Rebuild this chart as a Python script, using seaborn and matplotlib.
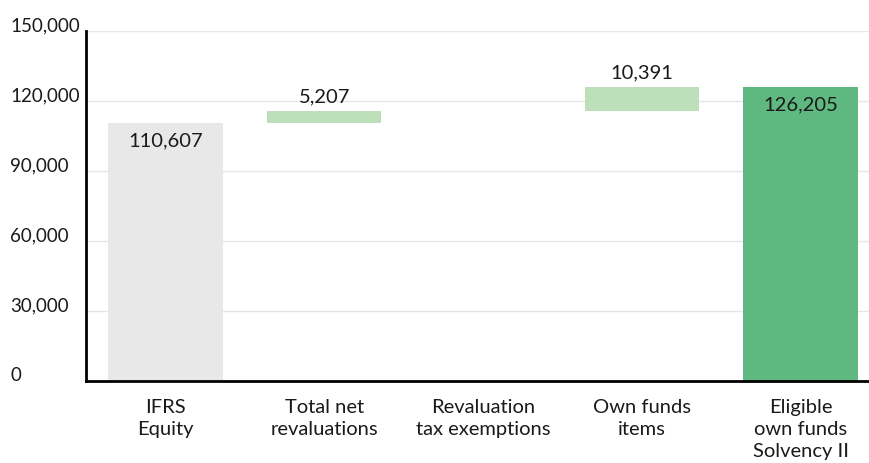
import matplotlib
matplotlib.use("Agg")
import matplotlib.pyplot as plt
import seaborn as sns
import pandas as pd

categories = ["IFRS\nEquity", "Total net\nrevaluations", "Revaluation\ntax exemptions",
              "Own funds\nitems", "Eligible\nown funds\nSolvency II"]
changes = [110607, 5207, 0, 10391, 126205]
kinds = ["start", "delta", "delta", "delta", "total"]
colors_by_kind = {"start": "#E8E8E8", "delta": "#BDDFB9", "total": "#5FB87F"}
yticks = [0, 30000, 60000, 90000, 120000, 150000]

# waterfall bases
bases = []
running = 0
for v, k in zip(changes, kinds):
    if k == "delta":
        bases.append(running)
        running += v
    else:
        bases.append(0)
        running = v

df = pd.DataFrame({"cat": categories, "val": changes})

sns.set_theme(style="white")
plt.rcParams["font.family"] = ["Lato", "DejaVu Sans"]

fig = plt.figure(figsize=(8.7, 4.63), dpi=100)
ax = fig.add_axes([86/870, 1-381/463, (880-86)/870, 350/463])

sns.barplot(data=df, x="cat", y="val", bottom=bases, width=0.72, color="#E8E8E8",
            saturation=1, ax=ax, zorder=2)
for p, k in zip(ax.patches, kinds):
    p.set_facecolor(colors_by_kind[k])
    p.set_edgecolor("none")

ax.set_ylim(0, 150000)
ax.set_yticks(yticks)
ax.set_yticklabels([f"{t:,}" for t in yticks])
ax.grid(axis="y", color="#E6E6E6", linewidth=1, zorder=0)
ax.set_axisbelow(True)
ax.set_xlabel("")
ax.set_ylabel("")

for s in ["top", "right"]:
    ax.spines[s].set_visible(False)
for s in ["left", "bottom"]:
    ax.spines[s].set_color("black")
    ax.spines[s].set_linewidth(2)

ax.tick_params(axis="y", length=0, pad=54.5, labelsize=13.5, labelcolor="#1a1a1a")
for lbl in ax.get_yticklabels():
    lbl.set_horizontalalignment("left")
    lbl.set_verticalalignment("baseline")
ax.tick_params(axis="x", length=0, pad=13, labelsize=14.5, labelcolor="#1a1a1a")
for lbl in ax.get_xticklabels():
    lbl.set_linespacing(1.35)

for i, (v, b, k) in enumerate(zip(changes, bases, kinds)):
    if v == 0:
        continue
    top = b + v
    if k == "delta":
        ax.annotate(f"{v:,}", (i, top), xytext=(0, 4), textcoords="offset points",
                    ha="center", va="bottom", fontsize=14.5, color="#1a1a1a")
    else:
        ax.annotate(f"{v:,}", (i, top), xytext=(0, -7), textcoords="offset points",
                    ha="center", va="top", fontsize=14.5, color="#1a1a1a")

fig.savefig("out.png", dpi=100)
